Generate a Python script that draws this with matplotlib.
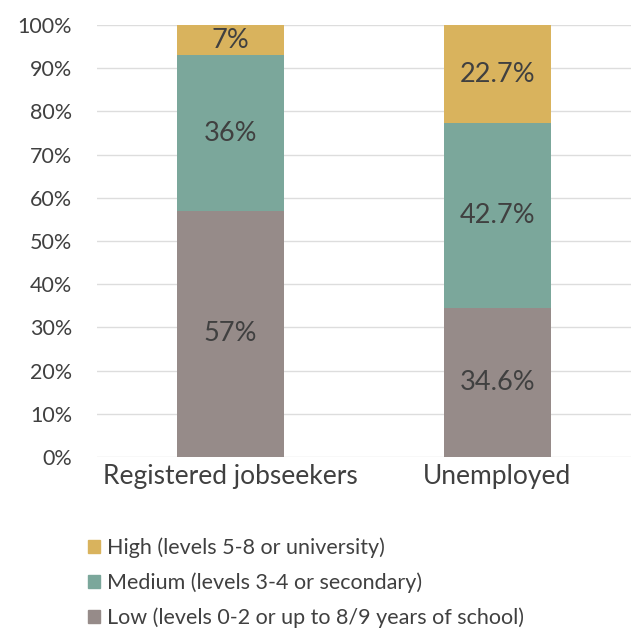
import matplotlib.pyplot as plt
from matplotlib.patches import Patch
import numpy as np

categories = ["Registered jobseekers", "Unemployed"]
low = [57.0, 34.6]
medium = [36.0, 42.7]
high = [7.0, 22.7]
low_labels = ["57%", "34.6%"]
medium_labels = ["36%", "42.7%"]
high_labels = ["7%", "22.7%"]
legend_names = ["High (levels 5-8 or university)",
                "Medium (levels 3-4 or secondary)",
                "Low (levels 0-2 or up to 8/9 years of school)"]

c_high = "#D9B35D"
c_med = "#7BA79B"
c_low = "#968B89"
txt = "#404040"

plt.rcParams['font.family'] = ['Lato', 'DejaVu Sans']

fig = plt.figure(figsize=(6.31, 6.30), dpi=100)
ax = fig.add_axes([0.1537, 0.2746, 0.8463, 0.6857])

x = np.arange(len(categories))
w = 0.4
b1 = ax.bar(x, low, w, color=c_low, zorder=3)
b2 = ax.bar(x, medium, w, bottom=low, color=c_med, zorder=3)
b3 = ax.bar(x, high, w, bottom=np.array(low) + np.array(medium), color=c_high, zorder=3)

for bars, labels in [(b1, low_labels), (b2, medium_labels), (b3, high_labels)]:
    ax.bar_label(bars, labels=labels, label_type="center", fontsize=19.5, color=txt)

ax.set_xlim(-0.5, 1.5)
ax.set_ylim(0, 100)
ax.set_yticks(np.arange(0, 101, 10))
ax.set_yticklabels([f"{v}%" for v in range(0, 101, 10)])
ax.set_xticks(x)
ax.set_xticklabels(categories)
ax.tick_params(axis="y", length=0, labelsize=15.5, colors=txt, pad=18)
ax.tick_params(axis="x", length=0, labelsize=19, colors=txt, pad=5)
ax.grid(axis="y", color="#DDDDDD", linewidth=1, zorder=0)
for s in ax.spines.values():
    s.set_visible(False)

handles = [Patch(color=c_high), Patch(color=c_med), Patch(color=c_low)]
fig.legend(handles, legend_names, loc="upper left", bbox_to_anchor=(0.123, 0.1635),
           frameon=False, fontsize=15.5, labelcolor=txt, handlelength=0.55,
           handleheight=0.55, handletextpad=0.3, labelspacing=0.66, borderpad=0)

plt.savefig("out.png", dpi=100)
